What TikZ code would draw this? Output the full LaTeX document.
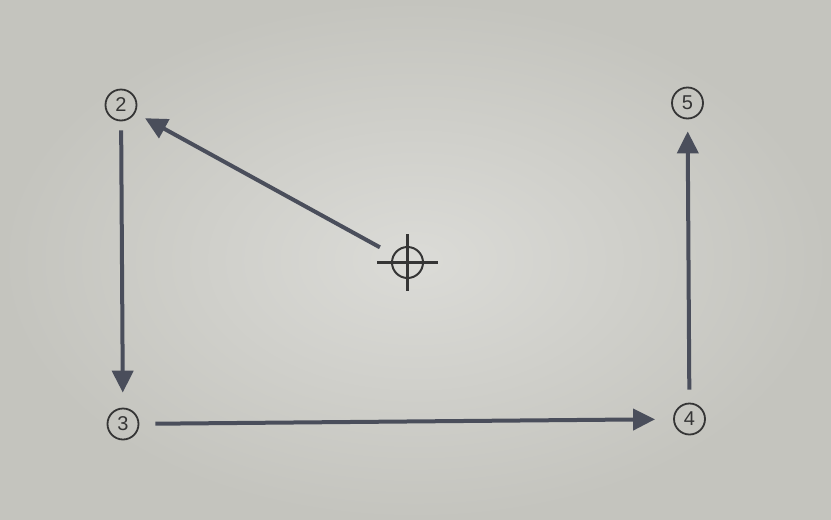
\documentclass[tikz,border=0pt]{standalone}
\usepackage{fontspec}
\setmainfont{Liberation Sans}
\usetikzlibrary{arrows.meta}
\definecolor{bgin}{HTML}{DBDBD7}
\definecolor{bgout}{HTML}{C4C4BE}
\definecolor{arrowcol}{HTML}{4A4E5B}
\definecolor{inkcol}{HTML}{353535}
\tikzset{
  numnode/.style={circle, draw=inkcol, line width=1.8pt, minimum size=31pt, inner sep=0pt,
    text=inkcol, font=\fontsize{20}{20}\selectfont},
  crossnode/.style={circle, draw=inkcol, line width=2pt, minimum size=31pt, inner sep=0pt},
  crossline/.style={draw=inkcol, line width=2.2pt},
  arr/.style={draw=arrowcol, line width=4pt, -{Triangle[length=22pt,width=21pt]}}
}
\begin{document}
\begin{tikzpicture}[x=1pt,y=-1pt]
\useasboundingbox (0,0) rectangle (831,520);
\shade[inner color=bgin, outer color=bgout] (0,0) rectangle (831,520);
\node[numnode] (n2) at (121,105) {2};
\node[numnode] (n5) at (687.5,103) {5};
\node[numnode] (n3) at (123,424) {3};
\node[numnode] (n4) at (689.5,419) {4};
\node[crossnode] (cross) at (407.5,262.5) {};
\draw[crossline] ([xshift=-14pt]cross.west) -- ([xshift=14pt]cross.east);
\draw[crossline] ([yshift=12pt]cross.north) -- ([yshift=-12pt]cross.south);
\draw[arr, shorten <=9pt, shorten >=15pt] (n2) -- (n3);
\draw[arr, shorten <=16pt, shorten >=18pt] (n3) -- (n4);
\draw[arr, shorten <=13pt, shorten >=12pt] (n4) -- (n5);
\draw[arr, shorten <=15pt, shorten >=11pt] (cross) -- (n2);
\end{tikzpicture}
\end{document}
